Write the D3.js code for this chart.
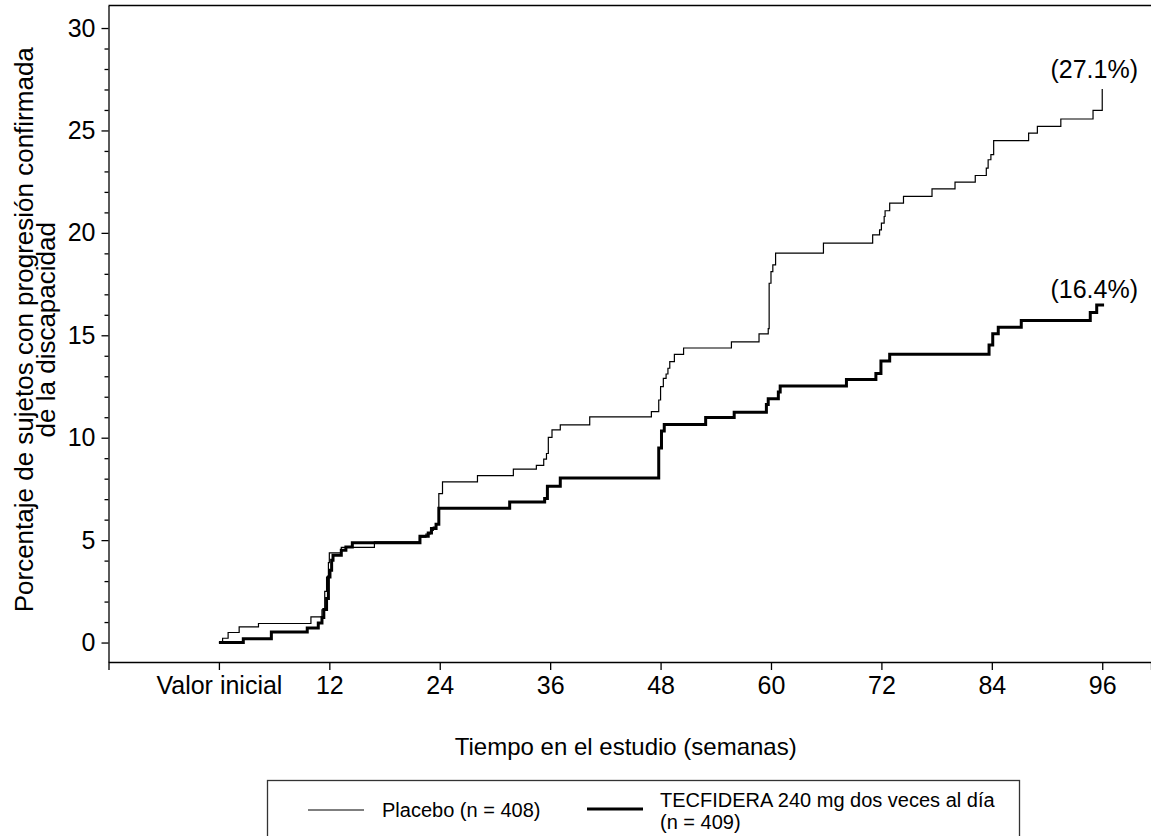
<!DOCTYPE html>
<html>
<head>
  <meta charset="utf-8">
  <title>Progresion confirmada de la discapacidad</title>
  <style>
    body { margin: 0; background: #fff; }
    svg text { font-family: "Liberation Sans", Arial, Helvetica, sans-serif; fill: #000; }
  </style>
</head>
<body>
  <div id="chart"></div>

  <script src="https://cdn.jsdelivr.net/npm/d3@7/dist/d3.min.js"></script>
  <script type="text/javascript">

  // weeks where each step starts, and the cumulative % from there on
  var placeboWeeks = [0, 0.4, 1.0, 2.2, 4.3, 10.0, 11.2, 11.5, 11.7, 11.9, 12.0, 13.3, 16.9,
    21.8, 22.5, 23.0, 23.3, 23.6, 23.9, 24.3, 28.1, 32.0, 34.5, 35.3, 35.6, 35.8, 36.2, 37.1,
    40.3, 47.0, 47.8, 48.0, 48.3, 48.6, 48.8, 49.0, 49.5, 50.5, 55.7, 58.7, 59.7, 59.8, 60.0,
    60.2, 60.5, 65.7, 71.05, 71.8, 72.0, 72.3, 72.4, 72.9, 74.4, 77.5, 80.0, 82.2, 83.4, 83.6,
    83.9, 84.2, 88.0, 88.95, 91.5, 95.0, 96.0];
  var placeboPct = [0, 0.21, 0.49, 0.76, 0.93, 1.25, 1.6, 2.5, 3.2, 3.9, 4.38, 4.65, 4.91,
    5.15, 5.3, 5.48, 5.64, 5.81, 7.27, 7.84, 8.15, 8.47, 8.65, 8.95, 9.23, 10.02, 10.38, 10.63,
    11.02, 11.27, 11.84, 12.49, 12.9, 13.11, 13.39, 13.71, 14.07, 14.38, 14.68, 15.07, 15.33, 17.54, 18.11,
    18.44, 19.01, 19.5, 19.9, 20.15, 20.48, 20.8, 21.08, 21.45, 21.78, 22.15, 22.48, 22.8, 23.16, 23.57,
    23.82, 24.5, 24.87, 25.2, 25.56, 25.98, 27.02];

  var tecWeeks = [0, 2.65, 5.7, 9.6, 10.8, 11.2, 11.4, 11.7, 11.9, 12.07, 12.25, 12.4, 13.3,
    13.8, 14.5, 21.85, 22.75, 23.1, 23.6, 23.9, 31.6, 35.4, 35.7, 37.1, 47.8, 48.1, 48.4, 52.9,
    56.0, 59.5, 59.7, 60.8, 61.0, 68.2, 71.4, 71.95, 72.9, 83.7, 84.1, 84.7, 87.2, 94.7, 95.4, 96.2];
  var tecPct = [0, 0.18, 0.52, 0.71, 0.96, 1.22, 1.61, 2.15, 3.2, 3.53, 4.02, 4.26, 4.51,
    4.67, 4.87, 5.19, 5.35, 5.57, 5.78, 6.55, 6.86, 7.03, 7.63, 8.03, 9.5, 10.33, 10.64, 10.99,
    11.24, 11.62, 11.9, 12.23, 12.52, 12.84, 13.13, 13.74, 14.07, 14.53, 15.07, 15.39, 15.72, 16.11, 16.48, 16.48];

  var xTicks = [0, 12, 24, 36, 48, 60, 72, 84, 96];
  var xTickLabels = ["Valor inicial", "12", "24", "36", "48", "60", "72", "84", "96"];
  var yTicks = [0, 5, 10, 15, 20, 25, 30];
  var yMinorTicks = d3.range(0, 31).filter(function(d){ return d % 5 !== 0; });

  var endLabels = ["(27.1%)", "(16.4%)"];
  var legendPlacebo = "Placebo (n = 408)";
  var legendTec = ["TECFIDERA 240 mg dos veces al día", "(n = 409)"];

  var width = 1151, height = 836;
  // plot box edges (window.top is reserved, so no plain "top")
  var plotLeft = 108.5, plotRight = 1151, plotTop = 5.5, plotBottom = 662;

  var svg = d3.select('#chart')
              .append('svg')
              .attr('width', width)
              .attr('height', height);

  var x = d3.scaleLinear().domain([-12, 101.3]).range([plotLeft, plotRight]);
  var y = d3.scaleLinear().domain([-0.95, 31.1]).range([plotBottom, plotTop]);

  // frame: top line
  svg.append('line')
      .attr('x1', plotLeft).attr('x2', plotRight)
      .attr('y1', plotTop).attr('y2', plotTop)
      .style('stroke', '#000').style('stroke-width', 1.3);

  var xAxis = svg.append('g')
      .attr('transform', 'translate(0,' + plotBottom + ')')
      .call(d3.axisBottom(x)
        .tickValues(xTicks)
        .tickSize(8)
        .tickSizeOuter(8)
        .tickPadding(6)
        .tickFormat(function(d, i){ return xTickLabels[i]; }));

  var yAxis = svg.append('g')
      .attr('transform', 'translate(' + plotLeft + ',0)')
      .call(d3.axisLeft(y)
        .tickValues(yTicks)
        .tickSize(7)
        .tickSizeOuter(0)
        .tickPadding(6));

  svg.append('g')
      .attr('transform', 'translate(' + plotLeft + ',0)')
      .call(d3.axisLeft(y).tickValues(yMinorTicks).tickSize(4).tickSizeOuter(0).tickFormat(''))
      .select('.domain').remove();

  svg.selectAll('.domain, .tick line').style('stroke', '#000').style('stroke-width', 1.3);
  xAxis.selectAll('text').style('font-size', '25px').style('font-family', null);
  yAxis.selectAll('text').style('font-size', '25px').style('font-family', null);

  // axis titles
  svg.append('text')
      .attr('x', (plotLeft + plotRight) / 2 - 4)
      .attr('y', 755)
      .attr('text-anchor', 'middle')
      .style('font-size', '24px')
      .text('Tiempo en el estudio (semanas)');

  var yTitle = svg.append('text')
      .attr('transform', 'translate(0,' + ((plotTop + plotBottom) / 2 - 4) + ') rotate(-90)')
      .attr('text-anchor', 'middle')
      .style('font-size', '26px');
  yTitle.append('tspan').attr('x', 0).attr('y', 33).text('Porcentaje de sujetos con progresión confirmada');
  yTitle.append('tspan').attr('x', 0).attr('y', 55).text('de la discapacidad');

  // KM step curves
  var line = d3.line()
      .curve(d3.curveStepAfter)
      .x(function(d){ return x(d[0]); })
      .y(function(d){ return y(d[1]); });

  var placebo = d3.zip(placeboWeeks, placeboPct);
  var tec = d3.zip(tecWeeks, tecPct);

  svg.append('path')
      .datum(placebo)
      .attr('d', line)
      .style('fill', 'none')
      .style('stroke', '#000')
      .style('stroke-width', 1.2);

  svg.append('path')
      .datum(tec)
      .attr('d', line)
      .style('fill', 'none')
      .style('stroke', '#000')
      .style('stroke-width', 3);

  svg.append('text')
      .attr('x', 1138).attr('y', 78)
      .attr('text-anchor', 'end')
      .style('font-size', '25px')
      .text(endLabels[0]);

  svg.append('text')
      .attr('x', 1138).attr('y', 298)
      .attr('text-anchor', 'end')
      .style('font-size', '25px')
      .text(endLabels[1]);

  // legend
  var lg = svg.append('g');
  lg.append('rect')
      .attr('x', 267.5).attr('y', 780.5)
      .attr('width', 752).attr('height', 70)
      .style('fill', 'none')
      .style('stroke', '#333')
      .style('stroke-width', 1.3);

  lg.append('line')
      .attr('x1', 308).attr('x2', 364).attr('y1', 810).attr('y2', 810)
      .style('stroke', '#000').style('stroke-width', 1.2);
  lg.append('text')
      .attr('x', 382).attr('y', 817)
      .style('font-size', '20px')
      .text(legendPlacebo);

  lg.append('line')
      .attr('x1', 587).attr('x2', 643).attr('y1', 809).attr('y2', 809)
      .style('stroke', '#000').style('stroke-width', 3);
  lg.append('text')
      .attr('x', 660).attr('y', 807)
      .style('font-size', '20px')
      .text(legendTec[0]);
  lg.append('text')
      .attr('x', 660).attr('y', 829)
      .style('font-size', '20px')
      .text(legendTec[1]);

  </script>
</body>
</html>
